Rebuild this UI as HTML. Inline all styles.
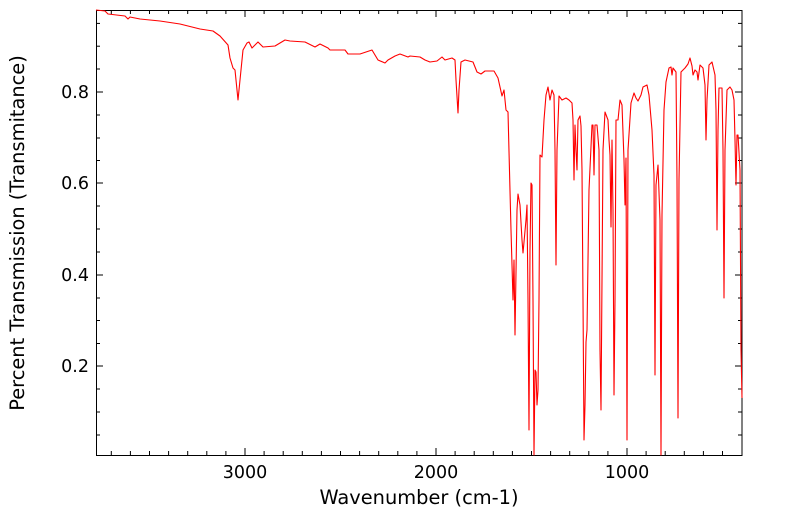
<!DOCTYPE html>
<html><head><meta charset="utf-8"><style>
body{margin:0;background:#fff;font-family:"DejaVu Sans",sans-serif}
</style></head><body>
<svg width="799" height="516" viewBox="0 0 799 516" xmlns="http://www.w3.org/2000/svg" font-family="DejaVu Sans, sans-serif">
<rect x="0" y="0" width="799" height="516" fill="#fff"/>
<rect x="96.5" y="10.5" width="645.5" height="445" fill="none" stroke="#000" stroke-width="1"/>
<g stroke="#000" stroke-width="1">
<line x1="245" y1="455" x2="245" y2="448"/><line x1="436" y1="455" x2="436" y2="448"/><line x1="627" y1="455" x2="627" y2="448"/>
<line x1="245" y1="10" x2="245" y2="17"/><line x1="436" y1="10" x2="436" y2="17"/><line x1="627" y1="10" x2="627" y2="17"/>
<g id="mx">
<line x1="111.3" y1="455" x2="111.3" y2="451"/><line x1="130.4" y1="455" x2="130.4" y2="451"/><line x1="149.5" y1="455" x2="149.5" y2="451"/><line x1="168.6" y1="455" x2="168.6" y2="451"/><line x1="187.7" y1="455" x2="187.7" y2="451"/><line x1="206.8" y1="455" x2="206.8" y2="451"/><line x1="225.9" y1="455" x2="225.9" y2="451"/>
<line x1="264.1" y1="455" x2="264.1" y2="451"/><line x1="283.2" y1="455" x2="283.2" y2="451"/><line x1="302.3" y1="455" x2="302.3" y2="451"/><line x1="321.4" y1="455" x2="321.4" y2="451"/><line x1="340.5" y1="455" x2="340.5" y2="451"/><line x1="359.6" y1="455" x2="359.6" y2="451"/><line x1="378.7" y1="455" x2="378.7" y2="451"/><line x1="397.8" y1="455" x2="397.8" y2="451"/><line x1="416.9" y1="455" x2="416.9" y2="451"/>
<line x1="455.1" y1="455" x2="455.1" y2="451"/><line x1="474.2" y1="455" x2="474.2" y2="451"/><line x1="493.3" y1="455" x2="493.3" y2="451"/><line x1="512.4" y1="455" x2="512.4" y2="451"/><line x1="531.5" y1="455" x2="531.5" y2="451"/><line x1="550.6" y1="455" x2="550.6" y2="451"/><line x1="569.7" y1="455" x2="569.7" y2="451"/><line x1="588.8" y1="455" x2="588.8" y2="451"/><line x1="607.9" y1="455" x2="607.9" y2="451"/>
<line x1="646.1" y1="455" x2="646.1" y2="451"/><line x1="665.2" y1="455" x2="665.2" y2="451"/><line x1="684.3" y1="455" x2="684.3" y2="451"/><line x1="703.4" y1="455" x2="703.4" y2="451"/><line x1="722.5" y1="455" x2="722.5" y2="451"/>
</g>
<use href="#mx" transform="translate(0,465) scale(1,-1)"/>
<line x1="96" y1="92" x2="103" y2="92"/><line x1="96" y1="183" x2="103" y2="183"/><line x1="96" y1="275" x2="103" y2="275"/><line x1="96" y1="366" x2="103" y2="366"/>
<line x1="742" y1="92" x2="735" y2="92"/><line x1="742" y1="183" x2="735" y2="183"/><line x1="742" y1="275" x2="735" y2="275"/><line x1="742" y1="366" x2="735" y2="366"/>
<g id="my">
<line x1="96" y1="23.4" x2="100" y2="23.4"/><line x1="96" y1="46.2" x2="100" y2="46.2"/><line x1="96" y1="69" x2="100" y2="69"/>
<line x1="96" y1="115" x2="100" y2="115"/><line x1="96" y1="138" x2="100" y2="138"/><line x1="96" y1="160.5" x2="100" y2="160.5"/>
<line x1="96" y1="206" x2="100" y2="206"/><line x1="96" y1="229" x2="100" y2="229"/><line x1="96" y1="252" x2="100" y2="252"/>
<line x1="96" y1="298" x2="100" y2="298"/><line x1="96" y1="320.5" x2="100" y2="320.5"/><line x1="96" y1="343.5" x2="100" y2="343.5"/>
<line x1="96" y1="389" x2="100" y2="389"/><line x1="96" y1="412" x2="100" y2="412"/><line x1="96" y1="435" x2="100" y2="435"/>
</g>
<use href="#my" transform="translate(838,0) scale(-1,1)"/>
</g>
<g font-size="17.5" fill="#000" text-anchor="middle">
<text x="245" y="478">3000</text><text x="436" y="478">2000</text><text x="627" y="478">1000</text>
<text x="419" y="504" font-size="19.4">Wavenumber (cm-1)</text>
</g>
<g font-size="17.5" fill="#000" text-anchor="end">
<text x="89" y="98">0.8</text><text x="89" y="189">0.6</text><text x="89" y="281">0.4</text><text x="89" y="372">0.2</text>
</g>
<text transform="translate(24,233) rotate(-90)" font-size="19.4" text-anchor="middle">Percent Transmission (Transmitance)</text>
<polyline fill="none" stroke="#ff0000" stroke-width="1.1" stroke-linejoin="round" points="
96,10 105,11 108,14 125,16 128,19 130,17 140,19 160,21 180,24 200,29 213,31 220,36 228,45 230,58 233,68 235,70 238,100 240,80 243,50 247,43 249,42 252,48 258,42 263,47 275,46 285,40 290,41 305,42 315,47 320,44 328,48 330,50 345,50 348,54 360,54 372,50 378,60 385,63 388,60 395,56 400,54 408,57 410,56 420,57 425,60 430,62 437,61 442,57 445,60 452,58 455,60 456,80 458,113 459,90 461,62 465,60 473,62 477,72 481,74 485,71 494,71 498,78 502,96 504,90 506,110 508,112 511,230 513,300 514,260 515,335 517,210 518,194 520,205 522,240 523,253 526,220 527,205 528,300 529,430 530,250 531,183 532,185 533,300 534,455 535,370 536,372 537,405 538,390 539,300 540,155 542,157 544,120 546,95 548,87 550,100 552,90 554,95 555,150 556,265 557,150 559,96 562,100 566,98 569,100 572,103 573,120 574,180 575,125 576,150 577,170 578,120 580,116 581,126 582,170 583,300 584,440 585,405 586,342 587,330 589,190 592,125 593,125 594,175 595,125 597,125 599,150 600,350 601,410 603,150 605,112 608,120 609,140 610,155 611,227 612,140 613,210 614,395 615,300 616,120 618,120 620,100 622,105 624,160 625,205 626,158 627,440 628,150 631,103 634,93 636,98 638,101 641,95 643,87 647,85 649,95 652,130 654,175 655,375 656,185 658,165 660,220 661,455 662,215 664,110 666,82 669,68 671,67 672,75 673,68 676,72 677,180 678,418 679,180 681,72 685,68 688,64 690,58 692,66 693,75 695,70 697,72 698,80 700,65 703,68 705,85 706,140 707,100 709,65 712,62 715,75 716,110 717,230 718,130 719,88 722,88 723,150 724,298 725,150 727,90 730,87 732,90 734,100 735,140 736,185 737,135 738,135 740,170 741,350 742,398"/>
</svg>
</body></html>
